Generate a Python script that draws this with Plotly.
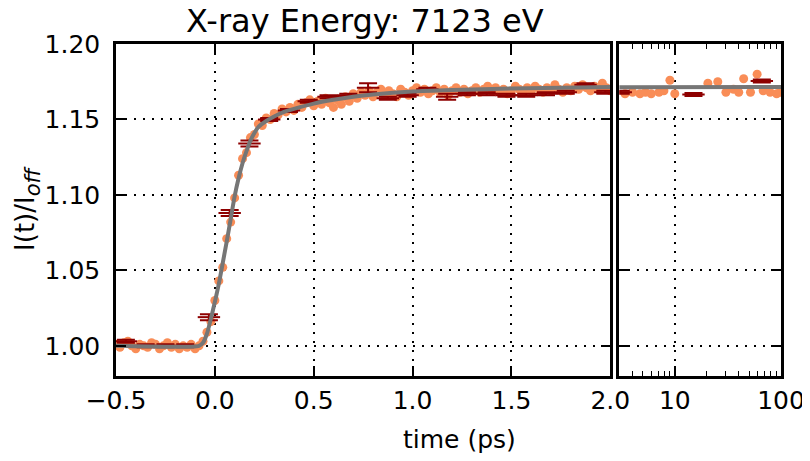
import plotly.graph_objects as go

# ---------------- data ----------------
# orange scatter, linear panel (time in ps)
scat_t = [-0.50, -0.48, -0.46, -0.44, -0.42, -0.40, -0.38, -0.36, -0.34, -0.32,
          -0.30, -0.28, -0.26, -0.24, -0.22, -0.20, -0.18, -0.16, -0.14, -0.12,
          -0.10, -0.08, -0.06, -0.04, -0.02, 0.00, 0.02, 0.04, 0.06, 0.08,
          0.10, 0.12, 0.14, 0.16, 0.18, 0.20, 0.22, 0.24, 0.26, 0.28,
          0.30, 0.32, 0.34, 0.36, 0.38, 0.40, 0.42, 0.44, 0.46, 0.48,
          0.50, 0.52, 0.54, 0.56, 0.58, 0.60, 0.62, 0.64, 0.66, 0.68,
          0.70, 0.72, 0.74, 0.76, 0.78, 0.80, 0.82, 0.84, 0.86, 0.88,
          0.90, 0.92, 0.94, 0.96, 0.98, 1.00, 1.02, 1.04, 1.06, 1.08,
          1.10, 1.12, 1.14, 1.16, 1.18, 1.20, 1.22, 1.24, 1.26, 1.28,
          1.30, 1.32, 1.34, 1.36, 1.38, 1.40, 1.42, 1.44, 1.46, 1.48,
          1.50, 1.52, 1.54, 1.56, 1.58, 1.60, 1.62, 1.64, 1.66, 1.68,
          1.70, 1.72, 1.74, 1.76, 1.78, 1.80, 1.82, 1.84, 1.86, 1.88,
          1.90, 1.92, 1.94, 1.96, 1.98, 2.00]
scat_y = [1.001, 0.999, 1.002, 1.003, 1.000, 0.998, 1.001, 1.000, 0.999, 1.002,
          1.001, 0.998, 1.000, 1.002, 0.999, 1.001, 0.998, 1.000, 0.999, 1.001,
          0.998, 1.000, 1.003, 1.009, 1.016, 1.030, 1.043, 1.052, 1.071, 1.082,
          1.098, 1.113, 1.124, 1.128, 1.138, 1.140, 1.147, 1.146, 1.151, 1.150,
          1.154, 1.153, 1.157, 1.155, 1.158, 1.156, 1.160, 1.158, 1.161, 1.163,
          1.159, 1.162, 1.160, 1.164, 1.161, 1.158, 1.163, 1.160, 1.165, 1.162,
          1.167, 1.164, 1.168, 1.166, 1.169, 1.165, 1.168, 1.170, 1.166, 1.169,
          1.167, 1.165, 1.170, 1.168, 1.166, 1.169, 1.171, 1.168, 1.170, 1.167,
          1.169, 1.171, 1.168, 1.170, 1.166, 1.169, 1.171, 1.168, 1.170, 1.167,
          1.169, 1.171, 1.168, 1.170, 1.172, 1.169, 1.171, 1.168, 1.170, 1.167,
          1.169, 1.172, 1.170, 1.168, 1.171, 1.169, 1.172, 1.170, 1.168, 1.171,
          1.169, 1.173, 1.170, 1.168, 1.171, 1.169, 1.172, 1.170, 1.173, 1.171,
          1.169, 1.172, 1.170, 1.174, 1.171, 1.169]

# orange scatter, log panel
scat_t_long = [3.4, 4.0, 4.7, 5.3, 6.0, 7.1, 7.9, 9.0, 10.0, 20.5, 25.4,
               30.3, 35.7, 40.0, 44.5, 51.6, 59.6, 68.0, 79.0, 91.0, 98.0]
scat_y_long = [1.167, 1.168, 1.167, 1.168, 1.167, 1.168, 1.169, 1.176, 1.167, 1.174, 1.175,
               1.168, 1.170, 1.168, 1.177, 1.168, 1.180, 1.169, 1.168, 1.167, 1.168]

# binned points with error bars, linear panel
bin_t = [-0.45, -0.35, -0.25, -0.15, -0.03, 0.075, 0.175, 0.275, 0.375, 0.475,
         0.575, 0.675, 0.775, 0.875, 0.975, 1.075, 1.175, 1.275, 1.375, 1.475,
         1.575, 1.675, 1.775, 1.875, 1.975]
bin_y = [1.003, 1.000, 1.000, 1.000, 1.019, 1.088, 1.134, 1.150, 1.156, 1.162,
         1.165, 1.166, 1.171, 1.164, 1.166, 1.170, 1.165, 1.167, 1.167, 1.166,
         1.166, 1.167, 1.168, 1.173, 1.168]
bin_err = [0.001, 0.001, 0.001, 0.001, 0.002, 0.002, 0.002, 0.001, 0.001, 0.001,
           0.001, 0.001, 0.003, 0.001, 0.001, 0.001, 0.002, 0.001, 0.001, 0.001,
           0.001, 0.001, 0.001, 0.001, 0.001]

# binned points, log panel
bin_t_long = [3.1, 15.0, 66.0]
bin_y_long = [1.168, 1.1665, 1.1755]
bin_err_long = [0.001, 0.001, 0.001]

# fit curve
fit_t = [-0.50, -0.08, -0.06, -0.04, -0.02, 0.00, 0.02, 0.04, 0.06, 0.08,
         0.10, 0.12, 0.14, 0.16, 0.18, 0.20, 0.22, 0.26, 0.30, 0.35,
         0.40, 0.50, 0.60, 0.70, 0.80, 1.00, 1.20, 1.50, 2.00]
fit_y = [1.000, 1.000, 1.002, 1.008, 1.018, 1.029, 1.041, 1.055, 1.069, 1.084,
         1.099, 1.111, 1.121, 1.129, 1.136, 1.141, 1.145, 1.149, 1.152, 1.155,
         1.157, 1.1605, 1.163, 1.165, 1.1665, 1.1685, 1.1695, 1.1705, 1.1715]
fit_t_long = [3.0, 10.0, 100.0]
fit_y_long = [1.1714, 1.1715, 1.1715]

# ticks
y_ticks = [1.00, 1.05, 1.10, 1.15, 1.20]
y_ticktext = ["1.00", "1.05", "1.10", "1.15", "1.20"]
x_ticks = [-0.5, 0.0, 0.5, 1.0, 1.5, 2.0]
x_ticktext = ["\u22120.5", "0.0", "0.5", "1.0", "1.5", "2.0"]
x2_ticks = [10, 100]
x2_ticktext = ["10", "100"]
x2_minor = [3, 4, 5, 6, 7, 8, 9, 20, 30, 40, 50, 60, 70, 80, 90]

# ---------------- styles ----------------
ORANGE = "#F98D57"
DARKRED = "#8E0000"
GRAY = "#767676"
FONT = "DejaVu Sans"

fig = go.Figure()

fig.add_trace(go.Scatter(x=scat_t, y=scat_y, mode="markers",
                         marker=dict(color=ORANGE, size=9, line=dict(width=0)),
                         xaxis="x", yaxis="y", showlegend=False))
fig.add_trace(go.Scatter(x=scat_t_long, y=scat_y_long, mode="markers",
                         marker=dict(color=ORANGE, size=9, line=dict(width=0)),
                         xaxis="x2", yaxis="y2", showlegend=False))

for tx, ty, te, xa, ya in [(bin_t, bin_y, bin_err, "x", "y"),
                           (bin_t_long, bin_y_long, bin_err_long, "x2", "y2")]:
    fig.add_trace(go.Scatter(
        x=tx, y=ty, mode="markers",
        marker=dict(symbol="line-ew", size=16, color=DARKRED,
                    line=dict(color=DARKRED, width=2)),
        error_y=dict(type="data", array=te, visible=True, color=DARKRED,
                     thickness=2, width=9),
        xaxis=xa, yaxis=ya, showlegend=False))

fig.add_trace(go.Scatter(x=fit_t, y=fit_y, mode="lines",
                         line=dict(color=GRAY, width=4, shape="spline", smoothing=0.6),
                         xaxis="x", yaxis="y", showlegend=False))
fig.add_trace(go.Scatter(x=fit_t_long, y=fit_y_long, mode="lines",
                         line=dict(color=GRAY, width=4),
                         xaxis="x2", yaxis="y2", showlegend=False))

# The page body has an 8px margin: figure pixel = screen pixel - 8
OFF = 8
W, H = 810 - OFF, 461 - OFF
SL, SR, ST, SB = 115.5, 781.5, 43.5, 376.0   # plot-area box, screen pixels
L, R, T, B = SL - OFF, SR - OFF, ST - OFF, SB - OFF
PW, PH = R - L, B - T


def px(x):
    return (x - OFF - L) / PW


def py(y):
    return (B - (y - OFF)) / PH


common = dict(showline=True, linecolor="black", linewidth=2.5, mirror="allticks",
              ticks="inside", ticklen=10, tickwidth=1.5, tickcolor="black",
              showgrid=True, gridcolor="black", gridwidth=1.5, griddash="2px,7px",
              zeroline=False, automargin=False,
              tickfont=dict(family=FONT, size=25, color="black"))

fig.update_layout(
    width=W, height=H,
    margin=dict(l=L, r=W - R, t=T, b=H - B, pad=0),
    paper_bgcolor="white", plot_bgcolor="white",
    xaxis=dict(domain=[0, px(610.5)], range=[-0.5, 2.0],
               tickmode="array", tickvals=x_ticks, ticktext=x_ticktext,
               anchor="y", ticklabelstandoff=0, **common),
    yaxis=dict(domain=[0, 1], range=[0.98, 1.20],
               tickmode="array", tickvals=y_ticks, ticktext=y_ticktext,
               anchor="x", ticklabelstandoff=8, **common),
    xaxis2=dict(domain=[px(619.5), 1], type="log", range=[0.4771, 2.0],
                tickmode="array", tickvals=x2_ticks, ticktext=x2_ticktext,
                minor=dict(tickmode="array", tickvals=x2_minor, ticks="inside",
                           ticklen=5, tickwidth=1.2, tickcolor="black", showgrid=False),
                anchor="y2", ticklabelstandoff=0, **common),
    yaxis2=dict(domain=[0, 1], range=[0.98, 1.20], matches="y",
                tickmode="array", tickvals=y_ticks, showticklabels=False,
                anchor="x2", **common),
    annotations=[
        dict(text="X-ray Energy: 7123 eV", x=px(365), y=py(20),
             xref="paper", yref="paper", showarrow=False,
             xanchor="center", yanchor="middle",
             font=dict(family=FONT, size=32, color="black")),
        dict(text="time (ps)", x=px(460), y=py(440),
             xref="paper", yref="paper", showarrow=False,
             xanchor="center", yanchor="middle",
             font=dict(family=FONT, size=25, color="black")),
        dict(text="I(t)/I<sub><span style='font-size:21px'><i>off</i></span></sub>",
             x=px(27), y=py(208),
             xref="paper", yref="paper", showarrow=False, textangle=-90,
             xanchor="center", yanchor="middle",
             font=dict(family=FONT, size=26, color="black")),
    ],
)

fig.write_html("out.html")
